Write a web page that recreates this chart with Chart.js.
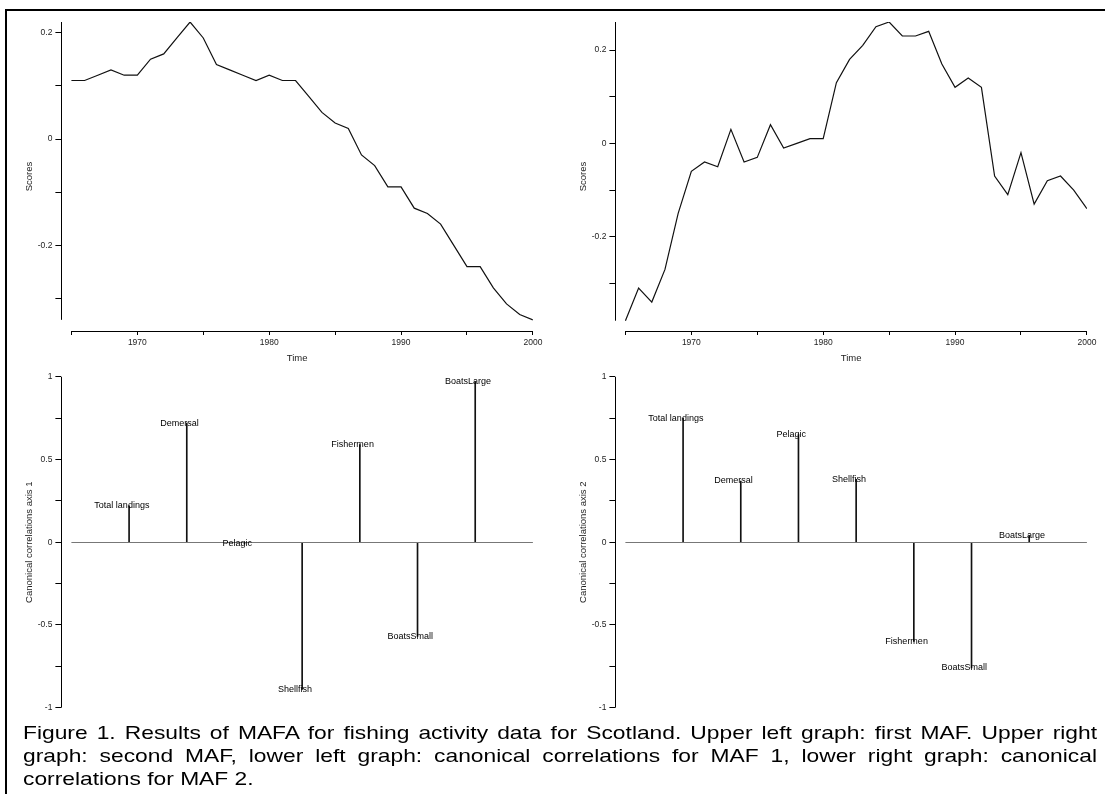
<!DOCTYPE html>
<html>
<head>
<meta charset="utf-8">
<title>MAFA - fishing activity data for Scotland</title>
<script src="https://cdn.jsdelivr.net/npm/chart.js@4.4.1/dist/chart.umd.min.js"></script>
<style>
  html, body { margin: 0; padding: 0; background: #fff; }
  body { width: 1105px; height: 794px; position: relative; overflow: hidden; font-family: "Liberation Sans", Arial, sans-serif; }
  .frame { position: absolute; left: 5px; top: 9px; width: 1110px; height: 800px; border-left: 2px solid #000; border-top: 2px solid #000; }
  canvas { position: absolute; }
  #maf1 { left: 8px; top: 12px; }
  #maf2 { left: 562px; top: 12px; }
  #corr1 { left: 8px; top: 366px; }
  #corr2 { left: 562px; top: 366px; }
  .caption { position: absolute; left: 23px; top: 721px; width: 895px; font-size: 19px; line-height: 23px; color: #000;
    transform: scaleX(1.2); transform-origin: 0 0; }
  .caption div { white-space: nowrap; }
  .caption .just { text-align: justify; text-align-last: justify; white-space: normal; }
</style>
</head>
<body>
<div class="frame"></div>
<canvas id="maf1" width="540" height="360"></canvas>
<canvas id="maf2" width="540" height="360"></canvas>
<canvas id="corr1" width="540" height="350"></canvas>
<canvas id="corr2" width="540" height="350"></canvas>
<div class="caption">
  <div class="just">Figure 1. Results of MAFA for fishing activity data for Scotland. Upper left graph: first MAF. Upper right</div>
  <div class="just">graph: second MAF, lower left graph: canonical correlations for MAF 1, lower right graph: canonical</div>
  <div>correlations for MAF 2.</div>
</div>
<script>
// time axis
const years = [1965, 1966, 1967, 1968, 1969, 1970, 1971, 1972, 1973, 1974,
  1975, 1976, 1977, 1978, 1979, 1980, 1981, 1982, 1983, 1984,
  1985, 1986, 1987, 1988, 1989, 1990, 1991, 1992, 1993, 1994,
  1995, 1996, 1997, 1998, 1999, 2000];

// MAF scores
const maf1 = [0.11, 0.11, 0.12, 0.13, 0.12, 0.12, 0.15, 0.16, 0.19, 0.22,
  0.19, 0.14, 0.13, 0.12, 0.11, 0.12, 0.11, 0.11, 0.08, 0.05,
  0.03, 0.02, -0.03, -0.05, -0.09, -0.09, -0.13, -0.14, -0.16, -0.20,
  -0.24, -0.24, -0.28, -0.31, -0.33, -0.34];
const maf2 = [-0.38, -0.31, -0.34, -0.27, -0.15, -0.06, -0.04, -0.05, 0.03, -0.04,
  -0.03, 0.04, -0.01, 0.00, 0.01, 0.01, 0.13, 0.18, 0.21, 0.25,
  0.26, 0.23, 0.23, 0.24, 0.17, 0.12, 0.14, 0.12, -0.07, -0.11,
  -0.02, -0.13, -0.08, -0.07, -0.10, -0.14];

// canonical correlations
const variables = ["Total landings", "Demersal", "Pelagic", "Shellfish", "Fishermen", "BoatsSmall", "BoatsLarge"];
const corrAxis1 = [0.22, 0.72, -0.01, -0.89, 0.59, -0.57, 0.97];
const corrAxis2 = [0.75, 0.37, 0.65, 0.38, -0.60, -0.76, 0.04];

// ticks
const yearTicks = [1965, 1970, 1975, 1980, 1985, 1990, 1995, 2000];
const yearLabels = ["", "1970", "", "1980", "", "1990", "", "2000"];
const scoreTicks = [-0.3, -0.2, -0.1, 0, 0.1, 0.2];
const scoreLabels = ["", "-0.2", "", "0", "", "0.2"];
const corrTicks = [-1, -0.75, -0.5, -0.25, 0, 0.25, 0.5, 0.75, 1];
const corrLabels = ["-1", "", "-0.5", "", "0", "", "0.5", "", "1"];

Chart.defaults.font.family = "'Liberation Sans', Arial, sans-serif";
Chart.defaults.color = "#222";
Chart.defaults.animation = false;

// R-like axis lines that stop where the data / ticks stop
const frameLines = {
  id: "frameLines",
  afterDatasetsDraw(chart, args, opts) {
    if (opts.yFrom === undefined) return;
    const { ctx, chartArea, scales: { x, y } } = chart;
    const align = (p) => Math.round(p - 0.5) + 0.5;
    ctx.save();
    ctx.lineWidth = 1;
    ctx.strokeStyle = "#000";
    ctx.beginPath();
    const ax = align(chartArea.left);
    ctx.moveTo(ax, y.getPixelForValue(opts.yFrom));
    ctx.lineTo(ax, y.getPixelForValue(opts.yTo));
    if (opts.xFrom !== undefined) {
      const ay = align(chartArea.bottom);
      ctx.moveTo(x.getPixelForValue(opts.xFrom), ay);
      ctx.lineTo(x.getPixelForValue(opts.xTo), ay);
    }
    ctx.stroke();
    if (opts.zeroTo !== undefined) {
      const zy = align(y.getPixelForValue(0));
      ctx.strokeStyle = "#777";
      ctx.beginPath();
      ctx.moveTo(x.getPixelForValue(0), zy);
      ctx.lineTo(x.getPixelForValue(opts.zeroTo), zy);
      ctx.stroke();
    }
    ctx.restore();
  }
};

// variable names written at the end of each stem
const stemLabels = {
  id: "stemLabels",
  afterDatasetsDraw(chart, args, opts) {
    if (!opts.names) return;
    const { ctx, scales: { x, y } } = chart;
    const pts = chart.data.datasets[0].data;
    ctx.save();
    ctx.font = "9px 'Liberation Sans', Arial, sans-serif";
    ctx.fillStyle = "#000";
    ctx.textAlign = "center";
    ctx.textBaseline = "middle";
    pts.forEach((p, i) => {
      ctx.fillText(opts.names[i], x.getPixelForValue(p.x - opts.shift), y.getPixelForValue(p.y));
    });
    ctx.restore();
  }
};

Chart.register(frameLines, stemLabels);

function yAxis(ticks, labels, min, max, title) {
  return {
    type: "linear",
    min: min,
    max: max,
    afterBuildTicks: (s) => { s.ticks = ticks.map((v) => ({ value: v })); },
    afterFit: (s) => { s.width = 53.4; },
    grid: { drawOnChartArea: false, drawTicks: true, tickLength: 6, color: "#000" },
    border: { display: false },
    ticks: { autoSkip: false, padding: 3, font: { size: 8.5 }, callback: (v, i) => labels[i] },
    title: { display: true, text: title, font: { size: 9.5 }, padding: { top: 16, bottom: 0 } }
  };
}

function scoreChart(id, values, ymin, ymax) {
  return new Chart(document.getElementById(id), {
    type: "line",
    data: {
      datasets: [{
        data: years.map((yr, i) => ({ x: yr, y: values[i] })),
        borderColor: "#111",
        borderWidth: 1.2,
        pointRadius: 0,
        tension: 0
      }]
    },
    options: {
      responsive: false,
      devicePixelRatio: 1,
      layout: { padding: { top: 10, right: 15.1, left: 0, bottom: 0 } },
      plugins: {
        legend: { display: false },
        tooltip: { enabled: false },
        frameLines: {
          yFrom: Math.min(...values), yTo: Math.max(...values),
          xFrom: years[0], xTo: years[years.length - 1]
        }
      },
      scales: {
        x: {
          type: "linear",
          min: 1964.24,
          max: 2000,
          afterBuildTicks: (s) => { s.ticks = yearTicks.map((v) => ({ value: v })); },
          afterFit: (s) => { s.height = 41; },
          grid: { drawOnChartArea: false, drawTicks: true, tickLength: 4, color: "#000" },
          border: { display: false },
          ticks: { autoSkip: false, maxRotation: 0, padding: 3, font: { size: 8.5 }, callback: (v, i) => yearLabels[i] },
          title: { display: true, text: "Time", font: { size: 9.5 }, padding: { top: 0, bottom: 8 } }
        },
        y: yAxis(scoreTicks, scoreLabels, ymin, ymax, "Scores")
      }
    }
  });
}

function corrChart(id, values, title) {
  return new Chart(document.getElementById(id), {
    type: "bar",
    data: {
      datasets: [{
        data: variables.map((name, i) => ({ x: i + 1, y: values[i] })),
        backgroundColor: "#111",
        borderWidth: 0,
        barThickness: 1
      }]
    },
    options: {
      responsive: false,
      devicePixelRatio: 1,
      layout: { padding: { top: 10.7, right: 15.1, left: 0, bottom: 8.3 } },
      plugins: {
        legend: { display: false },
        tooltip: { enabled: false },
        frameLines: { yFrom: -1, yTo: 1, zeroTo: variables.length + 1 },
        stemLabels: { names: variables, shift: 0.125 }
      },
      scales: {
        x: {
          type: "linear",
          display: false,
          offset: false,
          grid: { offset: false },
          min: -0.1733,
          max: variables.length + 1
        },
        y: yAxis(corrTicks, corrLabels, -1, 1, title)
      }
    }
  });
}

scoreChart("maf1", maf1, -0.361, 0.22);
scoreChart("maf2", maf2, -0.402, 0.26);
corrChart("corr1", corrAxis1, "Canonical correlations axis 1");
corrChart("corr2", corrAxis2, "Canonical correlations axis 2");
</script>
</body>
</html>
